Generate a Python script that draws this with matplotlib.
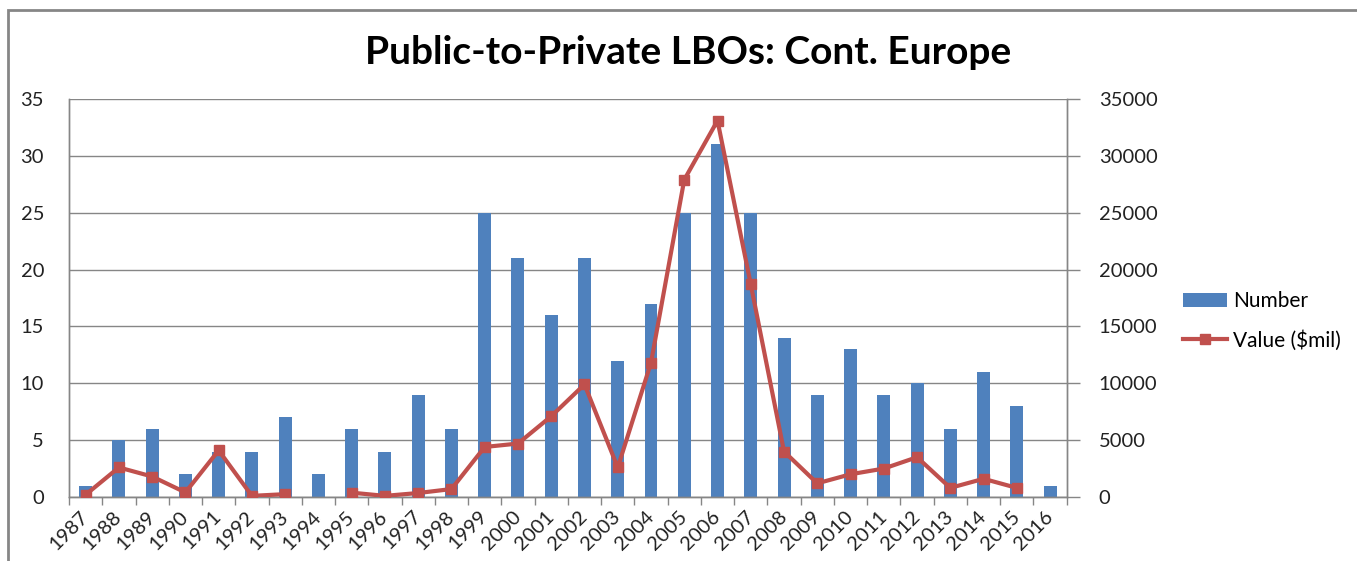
import numpy as np
import matplotlib
matplotlib.use("Agg")
import matplotlib.pyplot as plt
from matplotlib.patches import Rectangle

years = [str(y) for y in range(1987, 2017)]
number = [1, 5, 6, 2, 4, 4, 7, 2, 6, 4, 9, 6, 25, 21, 16, 21, 12, 17, 25, 31,
          25, 14, 9, 13, 9, 10, 6, 11, 8, 1]
value = [200, 2600, 1800, 400, 4100, 100, 250, np.nan, 380, 100, 350, 700,
         4400, 4700, 7100, 9900, 2600, 11800, 27900, 33100, 18700, 4000,
         1200, 2000, 2500, 3500, 800, 1600, 800, np.nan]

left_ticks = [0, 5, 10, 15, 20, 25, 30, 35]
right_ticks = [0, 5000, 10000, 15000, 20000, 25000, 30000, 35000]

plt.rcParams['font.family'] = ['Lato', 'DejaVu Sans']

W, H = 1357, 561
fig = plt.figure(figsize=(W / 100, H / 100), dpi=100)

# chart border (cropped on right/bottom)
fig.patches.append(Rectangle((7.5 / W, -0.1), 1.2, (H - 10) / H + 0.1,
                             transform=fig.transFigure, fill=False,
                             edgecolor='#868686', linewidth=2))

ax = fig.add_axes([69 / W, (H - 497) / H, (1066.7 - 69) / W, (497 - 99) / H])
ax2 = ax.twinx()

x = np.arange(len(years))
grid_c = '#868686'
lab_fs = 14.5

ax.bar(x, number, width=0.39, color='#4F81BD', zorder=2, label='Number')
ax.set_ylim(0, 35)
ax.set_xlim(-0.5, len(years) - 0.5)
ax.set_yticks(left_ticks)
ax.set_yticklabels([str(t) for t in left_ticks])
ax.yaxis.grid(True, color=grid_c, linewidth=1)
ax.set_axisbelow(True)
ax.tick_params(axis='y', length=0, labelsize=lab_fs, pad=18, colors='#222222')

ax.set_xticks(x)
ax.set_xticklabels(years, rotation=45, ha='right', va='center',
                   rotation_mode='anchor', fontsize=lab_fs, color='#222222')
ax.set_xticks(np.arange(-0.5, len(years)), minor=True)
ax.tick_params(axis='x', which='major', length=0, pad=12)
ax.tick_params(axis='x', which='minor', length=6, color=grid_c, width=1)

for s in ['top']:
    ax.spines[s].set_visible(False)
    ax2.spines[s].set_visible(False)
for a in (ax, ax2):
    for s in ['left', 'right', 'bottom']:
        a.spines[s].set_color(grid_c)
        a.spines[s].set_linewidth(1)

ax2.plot(x, value, color='#C0504D', linewidth=3, marker='s', markersize=7.5,
         label='Value ($mil)', zorder=3)
ax2.set_ylim(0, 35000)
ax2.set_yticks(right_ticks)
ax2.set_yticklabels([str(t) for t in right_ticks])
ax2.tick_params(axis='y', length=9, color=grid_c, width=1, labelsize=lab_fs,
                pad=14, colors='#222222')

fig.text(688 / W, 1 - 52 / H, 'Public-to-Private LBOs: Cont. Europe',
         ha='center', va='center', fontsize=28, fontweight='bold', color='black')

h1, l1 = ax.get_legend_handles_labels()
h2, l2 = ax2.get_legend_handles_labels()
fig.legend(h1 + h2, l1 + l2, loc='center left',
           bbox_to_anchor=(1164 / W, 1 - 321 / H), frameon=False,
           fontsize=15, handlelength=2.1, labelspacing=0.9, handletextpad=0.3)

fig.savefig('out.png', dpi=100)
